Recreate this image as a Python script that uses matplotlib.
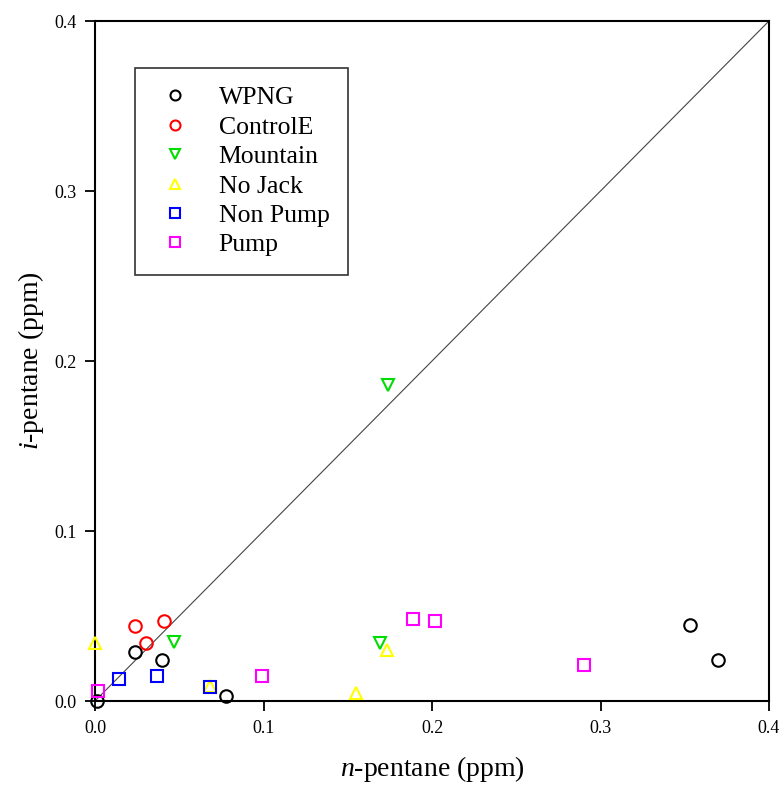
import matplotlib.pyplot as plt

plt.rcParams['font.family'] = ['Liberation Serif', 'DejaVu Serif']
plt.rcParams['mathtext.fontset'] = 'custom'
plt.rcParams['mathtext.rm'] = 'Liberation Serif'
plt.rcParams['mathtext.it'] = 'Liberation Serif:italic'

series = ['WPNG', 'ControlE', 'Mountain', 'No Jack', 'Non Pump', 'Pump']
colors = ['black', 'red', '#00dd00', 'yellow', 'blue', 'magenta']
markers = ['o', 'o', 'v', '^', 's', 's']

wpng_x = [0.001, 0.024, 0.040, 0.078, 0.353, 0.370]
wpng_y = [0.000, 0.029, 0.024, 0.003, 0.045, 0.024]
controle_x = [0.024, 0.041, 0.030]
controle_y = [0.044, 0.047, 0.034]
mountain_x = [0.174, 0.047, 0.169]
mountain_y = [0.186, 0.035, 0.034]
nojack_x = [0.000, 0.173, 0.155, 0.068]
nojack_y = [0.034, 0.030, 0.005, 0.009]
nonpump_x = [0.014, 0.037, 0.068]
nonpump_y = [0.013, 0.015, 0.008]
pump_x = [0.002, 0.099, 0.189, 0.202, 0.290]
pump_y = [0.006, 0.015, 0.048, 0.047, 0.021]

xs = [wpng_x, controle_x, mountain_x, nojack_x, nonpump_x, pump_x]
ys = [wpng_y, controle_y, mountain_y, nojack_y, nonpump_y, pump_y]

fig = plt.figure(figsize=(7.83, 7.89), dpi=100)
ax = fig.add_axes([95/783, 1 - 701/789, 674/783, 680/789])

ax.plot([0, 0.4], [0, 0.4], color='#444444', linewidth=0.8, zorder=1)

for name, c, m, x, y in zip(series, colors, markers, xs, ys):
    ax.plot(x, y, linestyle='none', marker=m, markersize=9, markerfacecolor='none',
            markeredgecolor=c, markeredgewidth=1.5, label=name, clip_on=False, zorder=3)

ax.set_xlim(0, 0.4)
ax.set_ylim(0, 0.4)
ax.set_xticks([0.0, 0.1, 0.2, 0.3, 0.4])
ax.set_yticks([0.0, 0.1, 0.2, 0.3, 0.4])
ax.set_xticklabels(['0.0', '0.1', '0.2', '0.3', '0.4'])
ax.set_yticklabels(['0.0', '0.1', '0.2', '0.3', '0.4'])
ax.tick_params(direction='out', length=7, width=1.3, labelsize=13, top=False, right=False)
ax.tick_params(axis='x', pad=7)
ax.tick_params(axis='y', pad=6)
for s in ax.spines.values():
    s.set_linewidth(1.5)

ax.set_xlabel(r'$n$-pentane (ppm)', fontsize=20, labelpad=12)
ax.set_ylabel(r'$i$-pentane (ppm)', fontsize=20, labelpad=6)

leg = ax.legend(loc='upper left', bbox_to_anchor=(0.059, 0.931), fontsize=18.5,
                frameon=True, fancybox=False, edgecolor='black', markerscale=0.8,
                handletextpad=0.84, borderpad=0.72, labelspacing=0.25, borderaxespad=0,
                handlelength=1.7)
leg.get_frame().set_linewidth(1.2)

fig.savefig('out.png', dpi=100)
